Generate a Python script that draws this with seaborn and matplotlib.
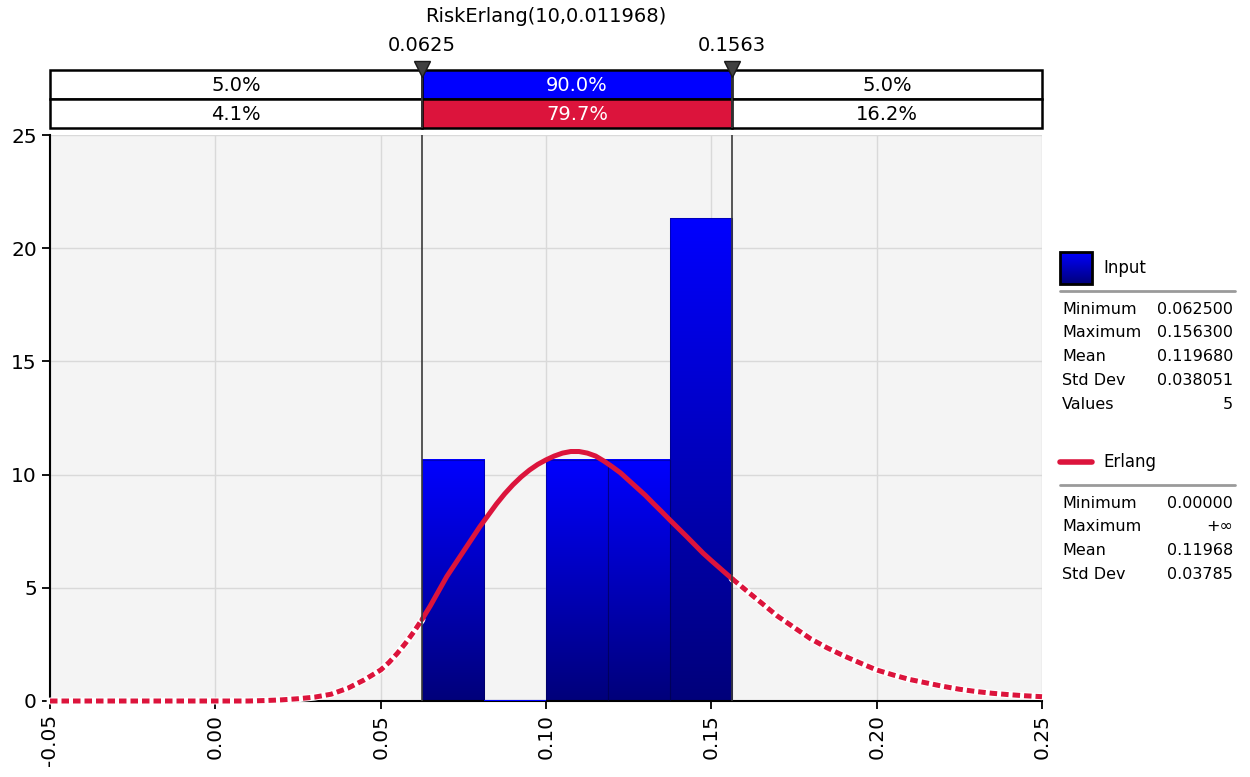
"""
Erlang fit chart: input histogram with fitted RiskErlang density.
"""

import numpy as np
import pandas as pd
import matplotlib
matplotlib.use("Agg")
import matplotlib.pyplot as plt
from matplotlib.colors import LinearSegmentedColormap
from matplotlib.patches import Rectangle
import seaborn as sns

# Input sample (5 values) and histogram bins
input_values = [0.0625, 0.1032, 0.1278, 0.1486, 0.1563]
bin_edges = [0.0625, 0.08126, 0.10002, 0.11878, 0.13754, 0.1563]

# Erlang density
curve_x = [-0.05, -0.03, -0.01, 0.0, 0.01, 0.015, 0.02, 0.025, 0.03, 0.035,
           0.04, 0.045, 0.05, 0.0525, 0.055, 0.0575, 0.06, 0.0625,
           0.065, 0.0675, 0.07, 0.0725, 0.075, 0.0775, 0.08, 0.0825, 0.085,
           0.0875, 0.09, 0.0925, 0.095, 0.0975, 0.10, 0.1025, 0.105, 0.1075,
           0.11, 0.1125, 0.115, 0.1175, 0.12, 0.1225, 0.125, 0.1275, 0.13,
           0.1325, 0.135, 0.1375, 0.14, 0.1425, 0.145, 0.1475, 0.15, 0.1525,
           0.155, 0.1563,
           0.16, 0.165, 0.17, 0.175, 0.18, 0.185, 0.19, 0.195, 0.20, 0.205,
           0.21, 0.215, 0.22, 0.225, 0.23, 0.235, 0.24, 0.245, 0.25]
curve_y = [0.0, 0.0, 0.0, 0.0, 0.0, 0.02, 0.05, 0.1, 0.17, 0.3,
           0.56, 0.93, 1.37, 1.7, 2.1, 2.55, 3.05, 3.6,
           4.2, 4.85, 5.5, 6.05, 6.6, 7.15, 7.7, 8.2, 8.7,
           9.15, 9.55, 9.9, 10.2, 10.45, 10.65, 10.82, 10.95, 11.02,
           11.02, 10.95, 10.82, 10.6, 10.35, 10.08, 9.75, 9.42, 9.09,
           8.72, 8.36, 7.99, 7.63, 7.27, 6.9, 6.53, 6.2, 5.88,
           5.56, 5.4,
           4.95, 4.35, 3.75, 3.25, 2.75, 2.35, 2.0, 1.68, 1.37, 1.15,
           0.95, 0.8, 0.65, 0.52, 0.42, 0.34, 0.28, 0.23, 0.19]

left_cut, right_cut = 0.0625, 0.1563
band_top = ["5.0%", "90.0%", "5.0%"]
band_bottom = ["4.1%", "79.7%", "16.2%"]
x_ticks = [-0.05, 0.0, 0.05, 0.10, 0.15, 0.20, 0.25]
y_ticks = [0, 5, 10, 15, 20, 25]

input_stats = [("Minimum", "0.062500"), ("Maximum", "0.156300"),
               ("Mean", "0.119680"), ("Std Dev", "0.038051"), ("Values", "5")]
erlang_stats = [("Minimum", "0.00000"), ("Maximum", "+\u221e"),
                ("Mean", "0.11968"), ("Std Dev", "0.03785")]

BLUE = "#0000ff"
RED = "#dc143c"
W, H = 1250, 777


def frac(x0, y0, x1, y1):
    # pixel box -> figure fraction rect
    return [x0 / W, 1 - y1 / H, (x1 - x0) / W, (y1 - y0) / H]


sns.set_theme(style="white")
plt.rcParams['font.family'] = ['DejaVu Sans']
plt.rcParams['text.color'] = 'black'

fig = plt.figure(figsize=(12.5, 7.77), dpi=100)
ax = fig.add_axes(frac(50, 135, 1042, 701))
band = fig.add_axes(frac(50, 70, 1042, 128))

grad = LinearSegmentedColormap.from_list("bar", ["#00007a", BLUE])
ramp = np.linspace(0, 1, 256).reshape(-1, 1)

# histogram
sns.histplot(x=input_values, bins=bin_edges, stat="density", ax=ax,
             color=BLUE, edgecolor=(0, 0, 0.25, 0.35), linewidth=0.8, alpha=1)
for p in list(ax.patches):
    h = p.get_height()
    x0, w = p.get_x(), p.get_width()
    if h <= 0:
        p.set_edgecolor(BLUE)
        p.set_linewidth(1.5)
        p.set_zorder(3)
        continue
    ax.imshow(ramp, cmap=grad, origin="lower", aspect="auto",
              extent=[x0, x0 + w, 0, h], zorder=2)
    p.set_facecolor("none")
    p.set_zorder(3)

# fitted curve: solid inside the cut-offs, dashed outside
curve = pd.DataFrame({"x": curve_x, "y": curve_y})
inside = curve[(curve.x >= left_cut) & (curve.x <= right_cut)]
lower = curve[curve.x <= left_cut]
upper = curve[curve.x >= right_cut]
for part in (lower, upper):
    sns.lineplot(data=part, x="x", y="y", ax=ax, color="white", lw=5.0,
                 zorder=4, clip_on=False)
    sns.lineplot(data=part, x="x", y="y", ax=ax, color=RED, lw=3.6,
                 linestyle=(0, (1.5, 0.8)), zorder=5, clip_on=False)
sns.lineplot(data=inside, x="x", y="y", ax=ax, color=RED, lw=3.6,
             zorder=5, solid_capstyle="round", solid_joinstyle="round")

for xc in (left_cut, right_cut):
    ax.axvline(xc, color="#3a3a3a", lw=1.2, zorder=6)

ax.set_xlim(-0.05, 0.25)
ax.set_ylim(0, 25)
ax.set_facecolor("#f4f4f4")
ax.grid(True, color="#d9d9d9", lw=1)
ax.set_axisbelow(True)
ax.set_xticks(x_ticks)
ax.set_xticklabels([f"{t:.2f}" for t in x_ticks], rotation=90)
ax.set_yticks(y_ticks)
ax.set_xlabel("")
ax.set_ylabel("")
ax.tick_params(axis="both", labelsize=14.5, colors="black", direction="out",
               length=6, width=1.3, left=True, bottom=True)
for side in ("top", "right"):
    ax.spines[side].set_visible(False)
for side in ("left", "bottom"):
    ax.spines[side].set_color("black")
    ax.spines[side].set_linewidth(1.5)

# percentage band above the plot
band.set_xlim(-0.05, 0.25)
band.set_ylim(0, 2)
band.axis("off")
segments = [(-0.05, left_cut), (left_cut, right_cut), (right_cut, 0.25)]
for i, (a, b) in enumerate(segments):
    for row, labels, fill in ((1, band_top, BLUE), (0, band_bottom, RED)):
        face = fill if i == 1 else "white"
        band.add_patch(Rectangle((a, row), b - a, 1, facecolor=face,
                                 edgecolor="black", lw=1.8, clip_on=False))
        band.text((a + b) / 2, row + 0.47, labels[i], ha="center", va="center",
                  color="white" if i == 1 else "black", fontsize=14)
for xc in (left_cut, right_cut):
    band.axvline(xc, color="#3a3a3a", lw=1.2, zorder=5)
    band.plot([xc], [2.03], marker="v", ms=11, color="#404040",
              markeredgecolor="#1a1a1a", clip_on=False, zorder=6)
    band.text(xc, 2.83, f"{xc:.4f}", ha="center", va="center", fontsize=14,
              clip_on=False)
band.text(0.1, 3.83, "RiskErlang(10,0.011968)", ha="center", va="center",
          fontsize=14, clip_on=False)

# legend / statistics panel (pixel coordinates)
lg = fig.add_axes([0, 0, 1, 1], zorder=-1)
lg.set_xlim(0, W)
lg.set_ylim(H, 0)
lg.axis("off")
lg.imshow(ramp, cmap=grad, origin="lower", aspect="auto",
          extent=[1060, 1092, 284, 252])
lg.add_patch(Rectangle((1060, 252), 32, 32, facecolor="none",
                       edgecolor="black", lw=2))
lg.text(1103, 268, "Input", va="center", fontsize=12)
lg.plot([1060, 1235], [291, 291], color="#9a9a9a", lw=2)
for i, (k, v) in enumerate(input_stats):
    y = 309 + 23.8 * i
    lg.text(1062, y, k, va="center", fontsize=11.5)
    lg.text(1233, y, v, va="center", ha="right", fontsize=11.5)

lg.plot([1060, 1092], [462, 462], color=RED, lw=4)
lg.text(1103, 462, "Erlang", va="center", fontsize=12)
lg.plot([1060, 1235], [485, 485], color="#9a9a9a", lw=2)
for i, (k, v) in enumerate(erlang_stats):
    y = 503 + 23.8 * i
    lg.text(1062, y, k, va="center", fontsize=11.5)
    lg.text(1233, y, v, va="center", ha="right", fontsize=11.5)

fig.savefig("out.png", dpi=100)
